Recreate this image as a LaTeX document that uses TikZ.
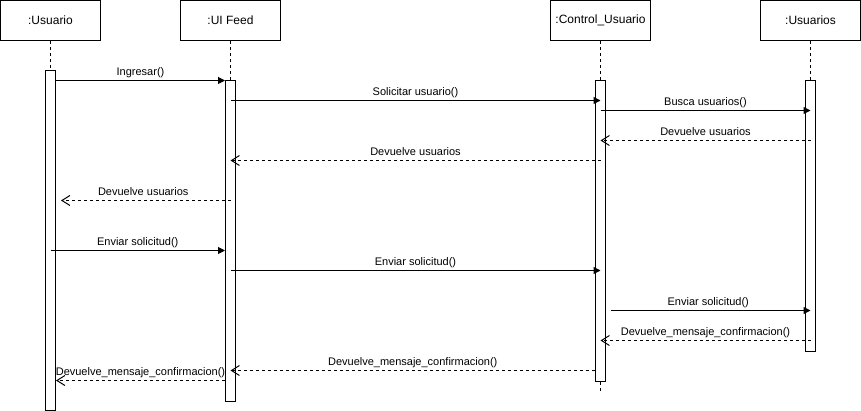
\documentclass[tikz,border=0pt]{standalone}
\usepackage{fontspec}
\setmainfont{Liberation Sans}
\usetikzlibrary{arrows.meta}
\definecolor{seqcolor0000}{RGB}{0,0,0}
\definecolor{seqcolor0001}{RGB}{255,255,255}
\begin{document}
\begin{tikzpicture}[yscale=-1,x=1pt,y=1pt
,sstyle0/.style={draw=seqcolor0000,fill=seqcolor0001,line width=1pt,minimum width=100pt,minimum height=40pt,inner sep=0pt,font=\fontsize{12}{14}\selectfont}
,sstyle1/.style={draw=seqcolor0000,fill=seqcolor0001,line width=1pt,minimum width=10pt,inner sep=0pt,anchor=north}
,sstyle2/.style={color=seqcolor0000,line width=1pt,dash pattern=on 3pt off 3pt}
,sstyle3/.style={color=seqcolor0000,line width=1pt,-{Triangle[length=7pt,width=7pt]}}
,sstyle4/.style={color=seqcolor0000,line width=1pt,dash pattern=on 3pt off 3pt,-{Straight Barb[length=8pt,width=10pt,line width=1pt]}}
,sstyle5/.style={midway,above,inner xsep=0pt,inner ysep=1.2pt,text depth=3pt,font=\fontsize{11}{13}\selectfont,color=seqcolor0000}
]
\useasboundingbox (0,0) rectangle (861,411);
% heads
\node[sstyle0] (hUsuario) at (50.5,20.5) {:Usuario};
\node[sstyle0] (hFeed) at (230.5,20.5) {:UI Feed};
\node[sstyle0] (hControl) at (600.5,20.5) {:Control\_Usuario};
\node[sstyle0] (hUsuarios) at (810.5,20.5) {:Usuarios};
% activation bars
\node[sstyle1,minimum height=339pt] (aUsuario) at (50.5,70.5) {};
\node[sstyle1,minimum height=320pt] (aFeed) at (230.5,80.5) {};
\node[sstyle1,minimum height=300pt] (aControl) at (600.5,80.5) {};
\node[sstyle1,minimum height=270pt] (aUsuarios) at (810.5,80.5) {};
\coordinate (eControl) at (600.5,390.5);
% lifelines
\draw[sstyle2] (hUsuario) -- (aUsuario);
\draw[sstyle2] (hFeed) -- (aFeed);
\draw[sstyle2] (hControl) -- (aControl);
\draw[sstyle2] (hUsuarios) -- (aUsuarios);
\draw[sstyle2] (aControl) -- (eControl);
% message levels
\foreach \i/\y in {1/80,2/100,3/110,4/140,5/160,6/200,7/250,8/270,9/310,10/340,11/370,12/380}
  \coordinate (m\i) at (0,\y+0.5);
% messages
\draw[sstyle3] (aUsuario.east |- m1) -- node[sstyle5]{Ingresar()} (aFeed.west |- m1);
\draw[sstyle3] (aFeed |- m2) -- node[sstyle5]{Solicitar usuario()} (aControl |- m2);
\draw[sstyle3] (aControl |- m3) -- node[sstyle5]{Busca usuarios()} (aUsuarios |- m3);
\draw[sstyle4] (aUsuarios |- m4) -- node[sstyle5]{Devuelve usuarios} (aControl |- m4);
\draw[sstyle4] (aControl |- m5) -- node[sstyle5]{Devuelve usuarios} (aFeed |- m5);
\draw[sstyle4,shorten >=5pt] (aFeed |- m6) -- node[sstyle5]{Devuelve usuarios} (aUsuario.east |- m6);
\draw[sstyle3] (aUsuario |- m7) -- node[sstyle5]{Enviar solicitud()} (aFeed.west |- m7);
\draw[sstyle3] (aFeed |- m8) -- node[sstyle5]{Enviar solicitud()} (aControl |- m8);
\draw[sstyle3,shorten <=5pt] (aControl.east |- m9) -- node[sstyle5]{Enviar solicitud()} (aUsuarios |- m9);
\draw[sstyle4] (aUsuarios |- m10) -- node[sstyle5]{Devuelve\_mensaje\_confirmacion()} (aControl |- m10);
\draw[sstyle4] (aControl.west |- m11) -- node[sstyle5]{Devuelve\_mensaje\_confirmacion()} (aFeed |- m11);
\draw[sstyle4] (aFeed.west |- m12) -- node[sstyle5]{Devuelve\_mensaje\_confirmacion()} (aUsuario.east |- m12);
\end{tikzpicture}
\end{document}
